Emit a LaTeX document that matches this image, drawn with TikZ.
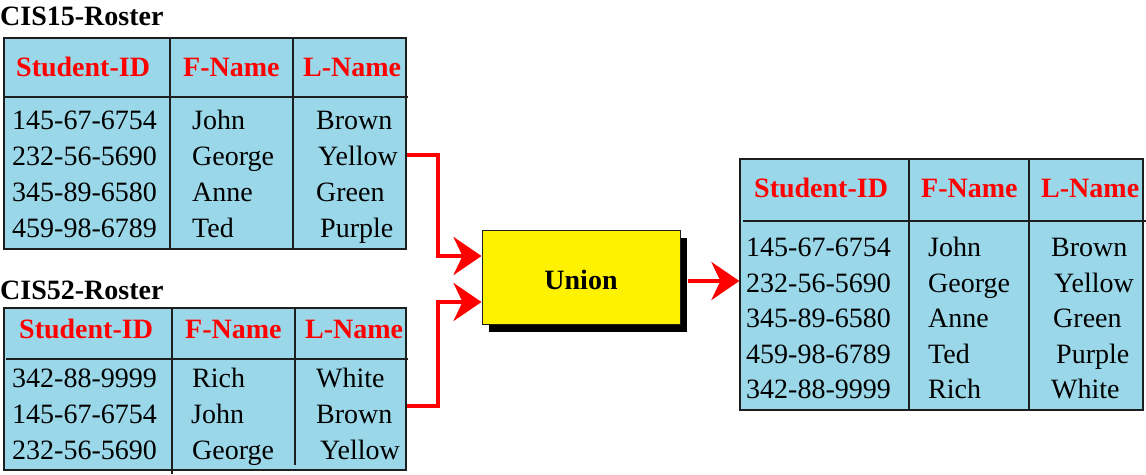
\documentclass[tikz,border=0pt]{standalone}
\usepackage{fontspec}
\setmainfont{Liberation Serif}
\usetikzlibrary{arrows.meta,shadows}
\definecolor{tblue}{RGB}{154,216,233}
\definecolor{tborder}{RGB}{30,30,30}
\begin{document}
\begin{tikzpicture}[x=1pt,y=-1pt,
  every node/.style={inner sep=0pt,font=\fontsize{28}{33}\selectfont},
  tbl/.style={draw=tborder,line width=1.2pt,fill=tblue,rectangle},
  rule/.style={draw=tborder,line width=1.2pt},
  cell/.style={anchor=base west,text=black},
  hdr/.style={anchor=base west,text=red,font=\fontsize{28}{33}\selectfont\bfseries},
  ttl/.style={anchor=base west,text=black,font=\fontsize{28}{33}\selectfont\bfseries},
  arr/.style={draw=red,line width=4pt,-{Stealth[length=28pt,width=38pt,inset=9pt]}},
  unionbox/.style={draw=tborder,line width=1pt,fill=yellow,minimum width=198pt,minimum height=94pt,
    text height=24pt,text depth=0pt,
    drop shadow={shadow xshift=7pt,shadow yshift=-8pt,opacity=1,fill=black}}
]
\useasboundingbox (0,0) rectangle (1146,474);

% ---------- Table 1 ----------
\node[ttl] (ttl1) at (0,25) {CIS15-Roster};
\node[tbl,minimum width=402pt,minimum height=211pt] (t1) at (205,143.5) {};
\draw[rule] (170,38) -- (170,249);
\draw[rule] (293,38) -- (293,249);
\draw[rule] (4,97) -- (408,97);
\node[hdr] (t1h1) at (16,76) {Student-ID};
\node[hdr] (t1h2) at (183,76) {F-Name};
\node[hdr] (t1h3) at (303,76) {L-Name};
\node[cell] (t1a1) at (12,129) {145-67-6754};
\node[cell] (t1a2) at (12,165) {232-56-5690};
\node[cell] (t1a3) at (12,201) {345-89-6580};
\node[cell] (t1a4) at (12,237) {459-98-6789};
\node[cell] (t1b1) at (192,129) {John};
\node[cell] (t1b2) at (192,165) {George};
\node[cell] (t1b3) at (192,201) {Anne};
\node[cell] (t1b4) at (192,237) {Ted};
\node[cell] (t1c1) at (316,129) {Brown};
\node[cell] (t1c2) at (318,165) {Yellow};
\node[cell] (t1c3) at (316,201) {Green};
\node[cell] (t1c4) at (320,237) {Purple};

% ---------- Table 2 ----------
\node[ttl] (ttl2) at (0,299) {CIS52-Roster};
\node[tbl,minimum width=402pt,minimum height=162pt] (t2) at (205,389) {};
\draw[rule] (172,308) -- (172,474);
\draw[rule] (295,308) -- (295,465);
\draw[rule] (6,359) -- (408,359);
\node[hdr] (t2h1) at (19,338) {Student-ID};
\node[hdr] (t2h2) at (185,338) {F-Name};
\node[hdr] (t2h3) at (305,338) {L-Name};
\node[cell] (t2a1) at (12,387) {342-88-9999};
\node[cell] (t2a2) at (12,423) {145-67-6754};
\node[cell] (t2a3) at (12,459) {232-56-5690};
\node[cell] (t2b1) at (192,387) {Rich};
\node[cell] (t2b2) at (191,423) {John};
\node[cell] (t2b3) at (192,459) {George};
\node[cell] (t2c1) at (316,387) {White};
\node[cell] (t2c2) at (316,423) {Brown};
\node[cell] (t2c3) at (320,459) {Yellow};

% ---------- Union ----------
\node[unionbox] (u) at (581,277) {\bfseries Union};

% ---------- Table 3 ----------
\node[tbl,minimum width=403pt,minimum height=251pt] (t3) at (941.5,284.5) {};
\draw[rule] (909,158) -- (909,410);
\draw[rule] (1029,158) -- (1029,410);
\draw[rule] (743,221) -- (1146,221);
\node[hdr] (t3h1) at (754,197) {Student-ID};
\node[hdr] (t3h2) at (921,197) {F-Name};
\node[hdr] (t3h3) at (1041,197) {L-Name};
\node[cell] (t3a1) at (746,256) {145-67-6754};
\node[cell] (t3a2) at (746,292) {232-56-5690};
\node[cell] (t3a3) at (746,327) {345-89-6580};
\node[cell] (t3a4) at (746,363) {459-98-6789};
\node[cell] (t3a5) at (746,398) {342-88-9999};
\node[cell] (t3b1) at (928,256) {John};
\node[cell] (t3b2) at (928,292) {George};
\node[cell] (t3b3) at (928,327) {Anne};
\node[cell] (t3b4) at (928,363) {Ted};
\node[cell] (t3b5) at (928,398) {Rich};
\node[cell] (t3c1) at (1051,256) {Brown};
\node[cell] (t3c2) at (1054,292) {Yellow};
\node[cell] (t3c3) at (1053,327) {Green};
\node[cell] (t3c4) at (1056,363) {Purple};
\node[cell] (t3c5) at (1051,398) {White};

% ---------- Connectors ----------
\draw[arr] (t1.east |- 0,155) -- (438,155) |- (u.west |- 0,256);
\draw[arr] (t2.east |- 0,406) -- (438,406) |- (u.west |- 0,302);
\draw[arr] ([shift={(7,4)}]u.east) -- (t3.west |- 0,281);
\end{tikzpicture}
\end{document}
